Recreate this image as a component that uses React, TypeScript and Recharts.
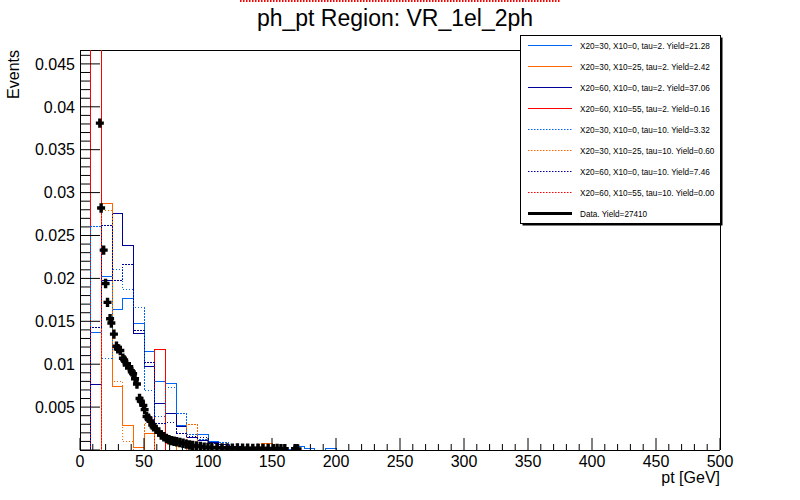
import React from "react";
import { ComposedChart, Line, Scatter, XAxis, YAxis, ReferenceLine } from "recharts";

const FONT = "'Liberation Sans', Arial, Helvetica, sans-serif";

const TITLE = "ph_pt Region: VR_1el_2ph";
const X_TITLE = "pt [GeV]";
const Y_TITLE = "Events";

const X_MIN = 0;
const X_MAX = 500;
const N_BINS = 60;
const Y_MAX = 0.04662;

const xTicks = Array.from({ length: 51 }, (_, i) => i * 10);
const yTicks = Array.from({ length: 47 }, (_, i) => i / 1000);
const yLabels = ["0.005", "0.01", "0.015", "0.02", "0.025", "0.03", "0.035", "0.04", "0.045"];

const legendLabels = [
  "X20=30, X10=0, tau=2. Yield=21.28",
  "X20=30, X10=25, tau=2. Yield=2.42",
  "X20=60, X10=0, tau=2. Yield=37.06",
  "X20=60, X10=55, tau=2. Yield=0.16",
  "X20=30, X10=0, tau=10. Yield=3.32",
  "X20=30, X10=25, tau=10. Yield=0.60",
  "X20=60, X10=0, tau=10. Yield=7.46",
  "X20=60, X10=55, tau=10. Yield=0.00",
  "Data. Yield=27410",
];

// bin contents, 60 bins of 8.33 GeV from 0 to 500
const blueTau2 = [
  0, 0.0137, 0.0202, 0.0164, 0.0177, 0.0147, 0.0115, 0.0080, 0.0078, 0.0029,
  0.0015, 0.0018, 0.0010, 0.0006, 0.0004, 0.0003, 0.0002, 0.0002, 0.0001, 0.0001,
  0.0004, 0.0002, 0, 0.0002, 0, 0, 0, 0, 0, 0,
  0, 0, 0, 0, 0, 0, 0, 0, 0, 0,
  0, 0, 0, 0, 0, 0, 0, 0, 0, 0,
  0, 0, 0, 0, 0, 0, 0, 0, 0, 0,
];
const orangeTau2 = [
  0, 0, 0.0287, 0.0074, 0.0029, 0.0003, 0.0019, 0, 0.0007, 0,
  0, 0, 0, 0, 0, 0, 0, 0.0007, 0, 0,
  0, 0, 0, 0, 0, 0, 0, 0, 0, 0,
  0, 0, 0, 0, 0, 0, 0, 0, 0, 0,
  0, 0, 0, 0, 0, 0, 0, 0, 0, 0,
  0, 0, 0, 0, 0, 0, 0, 0, 0, 0,
];
const navyTau2 = [
  0, 0.0076, 0.0197, 0.0276, 0.0238, 0.0136, 0.0097, 0.0054, 0.0042, 0.0027,
  0.0014, 0.0011, 0.0009, 0.0006, 0.0004, 0.0003, 0.0002, 0.0001, 0.0001, 0,
  0, 0, 0, 0, 0, 0, 0, 0, 0, 0,
  0, 0, 0, 0, 0, 0, 0, 0, 0, 0,
  0, 0, 0, 0, 0, 0, 0, 0, 0, 0,
  0, 0, 0, 0, 0, 0, 0, 0, 0, 0,
];
const redTau2 = [
  0, 0.95, 0, 0, 0, 0, 0, 0.0117, 0, 0,
  0, 0, 0, 0, 0, 0, 0, 0, 0, 0,
  0, 0, 0, 0, 0, 0, 0, 0, 0, 0,
  0, 0, 0, 0, 0, 0, 0, 0, 0, 0,
  0, 0, 0, 0, 0, 0, 0, 0, 0, 0,
  0, 0, 0, 0, 0, 0, 0, 0, 0, 0,
];
const blueTau10 = [
  0, 0.0261, 0.0107, 0.0210, 0.0187, 0.0166, 0.0069, 0.0039, 0.0073, 0.0042,
  0.0018, 0.0012, 0.0008, 0.0009, 0.0003, 0.0002, 0.0001, 0, 0, 0,
  0, 0, 0, 0, 0, 0, 0, 0, 0, 0,
  0, 0, 0, 0, 0, 0, 0, 0, 0, 0,
  0, 0, 0, 0, 0, 0, 0, 0, 0, 0,
  0, 0, 0, 0, 0, 0, 0, 0, 0, 0,
];
const orangeTau10 = [
  0, 0, 0.0279, 0.0080, 0.0010, 0, 0.0031, 0, 0, 0,
  0.0030, 0, 0, 0, 0, 0, 0, 0, 0, 0,
  0, 0, 0, 0, 0, 0, 0, 0, 0, 0,
  0, 0, 0, 0, 0, 0, 0, 0, 0, 0,
  0, 0, 0, 0, 0, 0, 0, 0, 0, 0,
  0, 0, 0, 0, 0, 0, 0, 0, 0, 0,
];
const navyTau10 = [
  0, 0.0143, 0.0262, 0.0197, 0.0216, 0.0139, 0.0102, 0.0031, 0.0032, 0.0019,
  0.0016, 0.0015, 0.0007, 0.0004, 0.0003, 0.0002, 0, 0, 0, 0,
  0, 0, 0, 0, 0, 0, 0, 0, 0, 0,
  0, 0, 0, 0, 0, 0, 0, 0, 0, 0,
  0, 0, 0, 0, 0, 0, 0, 0, 0, 0,
  0, 0, 0, 0, 0, 0, 0, 0, 0, 0,
];
const redTau10 = [
  0, 0, 0, 0, 0, 0, 0, 0, 0, 0,
  0, 0, 0, 0, 0, 0, 0, 0, 0, 0,
  0, 0, 0, 0, 0, 0, 0, 0, 0, 0,
  0, 0, 0, 0, 0, 0, 0, 0, 0, 0,
  0, 0, 0, 0, 0, 0, 0, 0, 0, 0,
  0, 0, 0, 0, 0, 0, 0, 0, 0, 0,
];

// data points (pt in GeV, normalised events)
const dataPt = [
  15.5, 16.5, 18.5, 20, 21.5, 23.5, 24.5, 26.5, 28.5, 29.5,
  31.5, 33.5, 34.5, 36.5, 38.5, 40.5, 41.5, 43, 44.5, 46.5,
  47.5, 49.5, 50.5, 52, 53.5, 55, 56.5, 57.5, 59.5, 61.5,
  63.5, 65.5, 67.5, 69.5, 71.5, 73.5, 75.5, 78, 80.5, 83,
  85.5, 88, 91, 94, 97, 100, 103, 107, 111, 115,
  119, 123, 127, 131, 135, 139, 143, 147, 151, 154,
  157, 160, 168, 170,
];
const dataVal = [
  0.0381, 0.0282, 0.0233, 0.0194, 0.0172, 0.0153, 0.0148, 0.0135, 0.0121, 0.0118,
  0.0116, 0.0107, 0.0105, 0.0099, 0.0097, 0.0091, 0.0089, 0.0083, 0.0077, 0.0060,
  0.0057, 0.0052, 0.0047, 0.0039, 0.0037, 0.0034, 0.0029, 0.0027, 0.0024, 0.0021,
  0.00175, 0.00155, 0.00136, 0.0012, 0.00109, 0.00102, 0.00097, 0.00088, 0.00078, 0.00068,
  0.00058, 0.00052, 0.00047, 0.0004, 0.00034, 0.00031, 0.00029, 0.00027, 0.00025, 0.00023,
  0.00022, 0.00024, 0.0002, 0.00022, 0.00018, 0.0002, 0.00017, 0.00019, 0.00016, 0.00018,
  0.00015, 0.00016, 0.00014, 0.00013,
];

const series = [
  { name: "blueTau2", values: blueTau2, color: "#0064f5", dash: undefined },
  { name: "orangeTau2", values: orangeTau2, color: "#ff6600", dash: undefined },
  { name: "navyTau2", values: navyTau2, color: "#000099", dash: undefined },
  { name: "redTau2", values: redTau2, color: "#ff0000", dash: undefined },
  { name: "blueTau10", values: blueTau10, color: "#0064f5", dash: "1.5 1.5" },
  { name: "orangeTau10", values: orangeTau10, color: "#ff6600", dash: "1.5 1.5" },
  { name: "navyTau10", values: navyTau10, color: "#000099", dash: "1.5 1.5" },
  { name: "redTau10", values: redTau10, color: "#ff0000", dash: "1.5 1.5" },
];

const binWidth = (X_MAX - X_MIN) / N_BINS;
const histData = (values: number[]) => {
  const pts = values.map((v, i) => ({ x: X_MIN + i * binWidth, y: v }));
  pts.push({ x: X_MAX, y: values[values.length - 1] });
  return pts;
};
const dataPoints = dataPt.map((x, i) => ({ x, y: dataVal[i] }));

function XTick(props: any) {
  const { x, y, payload } = props;
  const v = payload.value;
  const major = v % 50 === 0;
  return (
    <g>
      <line x1={x} x2={x} y1={y} y2={y - (major ? 12 : 6)} stroke="#000" strokeWidth={1} />
      {major && (
        <text x={x} y={y + 16.5} textAnchor="middle" fontSize={16} fontFamily={FONT} fill="#000">
          {v}
        </text>
      )}
    </g>
  );
}

function YTick(props: any) {
  const { x, y, payload } = props;
  const k = Math.round(payload.value * 1000);
  const major = k % 5 === 0;
  const label = major && k > 0 ? yLabels[k / 5 - 1] : null;
  return (
    <g>
      <line x1={x} x2={x + (major ? 20 : 10)} y1={y} y2={y} stroke="#000" strokeWidth={1} />
      {label && (
        <text x={x - 5} y={y} dy="0.36em" textAnchor="end" fontSize={16} fontFamily={FONT} fill="#000">
          {label}
        </text>
      )}
    </g>
  );
}

function Cross(props: any) {
  const { cx, cy } = props;
  if (cx == null || cy == null) return null;
  const a = 4;
  const t = 1.7;
  const d = `M${cx - a},${cy - t} H${cx - t} V${cy - a - 0.7} H${cx + t} V${cy - t} H${cx + a} V${cy + t} H${cx + t} V${cy + a + 0.7} H${cx - t} V${cy + t} H${cx - a} Z`;
  return <path d={d} fill="#000" />;
}

export default function App() {
  const legendY0 = 45;
  const legendDy = 21.04;
  return (
    <div style={{ position: "absolute", left: 0, top: 0, width: 800, height: 500, background: "#fff" }}>
      <style>{`.recharts-line-curve, .recharts-cartesian-axis-line, .recharts-reference-line-line, .recharts-cartesian-axis-tick line { shape-rendering: crispEdges; }`}</style>
      <ComposedChart width={800} height={500} margin={{ top: 50, right: 80, bottom: 0, left: 0 }}>
        <XAxis
          type="number"
          dataKey="x"
          domain={[X_MIN, X_MAX]}
          ticks={xTicks}
          interval={0}
          allowDataOverflow
          height={50}
          tickSize={0}
          tickMargin={0}
          tickLine={false}
          axisLine={{ stroke: "#000", strokeWidth: 1 }}
          tick={<XTick />}
        />
        <YAxis
          type="number"
          domain={[0, Y_MAX]}
          ticks={yTicks}
          interval={0}
          allowDataOverflow
          width={80}
          tickSize={0}
          tickMargin={0}
          tickLine={false}
          axisLine={{ stroke: "#000", strokeWidth: 1 }}
          tick={<YTick />}
        />
        <ReferenceLine y={Y_MAX} stroke="#000" strokeWidth={1} />
        <ReferenceLine x={X_MAX} stroke="#000" strokeWidth={1} />
        {series.map((s) => (
          <Line
            key={s.name}
            data={histData(s.values)}
            dataKey="y"
            type="stepAfter"
            stroke={s.color}
            strokeWidth={1}
            strokeDasharray={s.dash}
            dot={false}
            activeDot={false}
            isAnimationActive={false}
          />
        ))}
        <Scatter data={dataPoints} dataKey="y" shape={<Cross />} isAnimationActive={false} />
      </ComposedChart>
      <svg
        width={800}
        height={500}
        style={{ position: "absolute", left: 0, top: 0, pointerEvents: "none" }}
      >
        <line x1={240} x2={560} y1={1} y2={1} stroke="#ff0000" strokeWidth={2} strokeDasharray="1.5 1.5" />
        <text x={395} y={26} textAnchor="middle" fontSize={23} fontFamily={FONT} fill="#000">
          {TITLE}
        </text>
        <text x={720} y={483} textAnchor="end" fontSize={16} fontFamily={FONT} fill="#000">
          {X_TITLE}
        </text>
        <text
          x={19}
          y={50}
          textAnchor="end"
          fontSize={16}
          fontFamily={FONT}
          fill="#000"
          transform="rotate(-90 19 50)"
        >
          {Y_TITLE}
        </text>
        <rect x={522.5} y={37.5} width={200} height={188} fill="#000" />
        <rect x={520.5} y={35.5} width={200} height={188} fill="#fff" stroke="#000" strokeWidth={1} />
        {legendLabels.map((label, i) => {
          const y = Math.round(legendY0 + i * legendDy) + 0.5;
          const s = series[i];
          return (
            <g key={label}>
              <line
                x1={528}
                x2={572}
                y1={y}
                y2={y}
                stroke={s ? s.color : "#000"}
                strokeWidth={s ? 1 : 3}
                strokeDasharray={s ? s.dash : undefined}
              />
              <text x={580} y={y + 3} fontSize={8.2} fontFamily={FONT} fill="#000">
                {label}
              </text>
            </g>
          );
        })}
      </svg>
    </div>
  );
}
